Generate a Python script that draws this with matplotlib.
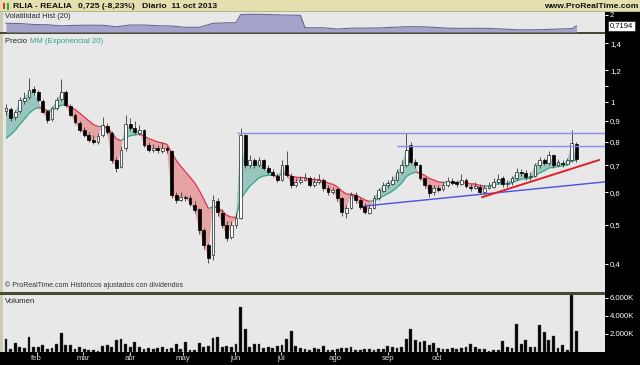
import matplotlib
matplotlib.use("Agg")
import matplotlib.pyplot as plt
import numpy as np
import pandas as pd
from matplotlib.collections import LineCollection
from matplotlib.patches import Rectangle
from matplotlib.ticker import NullLocator
from matplotlib.transforms import blended_transform_factory

plt.rcParams["font.family"] = ["Liberation Sans", "DejaVu Sans"]

# --- data (one candle = two sessions) ---
opens = [
    0.95, 0.965, 0.92, 0.95, 1.01, 1.03, 1.08, 1.06, 1.01, 0.95,
    0.91, 0.97, 1.02, 1.06, 0.98, 0.93, 0.89, 0.855, 0.83, 0.81,
    0.80, 0.83, 0.875, 0.84, 0.72, 0.695, 0.77, 0.885, 0.865, 0.84,
    0.855, 0.785, 0.765, 0.77, 0.76, 0.772, 0.76, 0.59, 0.575, 0.585,
    0.58, 0.56, 0.545, 0.485, 0.445, 0.42, 0.57, 0.535, 0.50, 0.465,
    0.50, 0.52, 0.83, 0.70, 0.72, 0.70, 0.72, 0.69, 0.675, 0.66,
    0.645, 0.70, 0.66, 0.625, 0.635, 0.645, 0.65, 0.625, 0.635, 0.645,
    0.615, 0.60, 0.61, 0.58, 0.535, 0.55, 0.59, 0.575, 0.555, 0.535,
    0.55, 0.58, 0.605, 0.625, 0.63, 0.645, 0.675, 0.70, 0.785, 0.715,
    0.70, 0.65, 0.625, 0.60, 0.615, 0.61, 0.625, 0.64, 0.635, 0.63,
    0.645, 0.62, 0.615, 0.62, 0.60, 0.615, 0.62, 0.635, 0.65, 0.63,
    0.635, 0.65, 0.675, 0.67, 0.655, 0.66, 0.70, 0.72, 0.71, 0.74,
    0.70, 0.71, 0.705, 0.72, 0.79,
]
closes = [
    0.969, 0.915, 0.947, 1.013, 1.025, 1.073, 1.061, 1.013, 0.947, 0.905,
    0.969, 1.013, 1.061, 0.985, 0.931, 0.895, 0.855, 0.831, 0.808, 0.799,
    0.826, 0.880, 0.845, 0.721, 0.689, 0.763, 0.885, 0.865, 0.845, 0.855,
    0.785, 0.763, 0.772, 0.763, 0.772, 0.763, 0.591, 0.575, 0.585, 0.581,
    0.562, 0.543, 0.485, 0.445, 0.414, 0.575, 0.537, 0.499, 0.463, 0.499,
    0.519, 0.831, 0.701, 0.721, 0.701, 0.721, 0.689, 0.674, 0.662, 0.644,
    0.701, 0.662, 0.626, 0.637, 0.644, 0.651, 0.626, 0.637, 0.644, 0.615,
    0.602, 0.608, 0.581, 0.537, 0.549, 0.591, 0.575, 0.553, 0.537, 0.549,
    0.581, 0.608, 0.626, 0.633, 0.644, 0.674, 0.701, 0.765, 0.713, 0.701,
    0.651, 0.626, 0.598, 0.615, 0.608, 0.626, 0.640, 0.633, 0.630, 0.644,
    0.623, 0.615, 0.623, 0.602, 0.615, 0.623, 0.637, 0.648, 0.630, 0.633,
    0.651, 0.674, 0.670, 0.655, 0.659, 0.701, 0.721, 0.709, 0.742, 0.701,
    0.713, 0.705, 0.721, 0.794, 0.725,
]
highs = [
    0.99, 0.975, 0.96, 1.03, 1.06, 1.148, 1.10, 1.07, 1.02, 0.96,
    0.98, 1.03, 1.14, 1.07, 0.99, 0.94, 0.90, 0.87, 0.845, 0.83,
    0.84, 0.92, 0.89, 0.85, 0.735, 0.78, 0.93, 0.915, 0.90, 0.88,
    0.86, 0.80, 0.79, 0.785, 0.80, 0.78, 0.765, 0.60, 0.60, 0.59,
    0.59, 0.57, 0.55, 0.49, 0.45, 0.59, 0.58, 0.545, 0.51, 0.51,
    0.535, 0.865, 0.835, 0.74, 0.73, 0.735, 0.725, 0.70, 0.685, 0.67,
    0.72, 0.76, 0.67, 0.65, 0.66, 0.67, 0.66, 0.655, 0.665, 0.65,
    0.625, 0.62, 0.615, 0.585, 0.56, 0.60, 0.60, 0.58, 0.565, 0.56,
    0.59, 0.615, 0.635, 0.645, 0.66, 0.685, 0.72, 0.84, 0.80, 0.725,
    0.705, 0.655, 0.63, 0.625, 0.625, 0.635, 0.655, 0.65, 0.645, 0.665,
    0.65, 0.63, 0.635, 0.63, 0.625, 0.635, 0.65, 0.665, 0.66, 0.645,
    0.66, 0.69, 0.685, 0.68, 0.675, 0.71, 0.735, 0.73, 0.76, 0.745,
    0.725, 0.72, 0.73, 0.855, 0.80,
]
lows = [
    0.93, 0.90, 0.905, 0.94, 0.99, 1.02, 1.04, 1.00, 0.94, 0.89,
    0.90, 0.96, 1.01, 0.975, 0.925, 0.885, 0.845, 0.82, 0.80, 0.79,
    0.79, 0.82, 0.835, 0.71, 0.675, 0.69, 0.76, 0.85, 0.835, 0.83,
    0.775, 0.755, 0.755, 0.75, 0.75, 0.75, 0.58, 0.565, 0.57, 0.57,
    0.555, 0.535, 0.475, 0.435, 0.402, 0.41, 0.525, 0.49, 0.455, 0.46,
    0.49, 0.515, 0.69, 0.69, 0.69, 0.695, 0.68, 0.665, 0.655, 0.635,
    0.64, 0.655, 0.615, 0.62, 0.63, 0.64, 0.62, 0.62, 0.63, 0.605,
    0.59, 0.595, 0.57, 0.525, 0.52, 0.545, 0.565, 0.545, 0.53, 0.53,
    0.545, 0.575, 0.60, 0.615, 0.625, 0.64, 0.665, 0.695, 0.705, 0.69,
    0.645, 0.615, 0.585, 0.59, 0.60, 0.605, 0.62, 0.625, 0.62, 0.625,
    0.615, 0.605, 0.61, 0.595, 0.595, 0.61, 0.615, 0.63, 0.62, 0.62,
    0.625, 0.645, 0.66, 0.645, 0.645, 0.655, 0.69, 0.70, 0.70, 0.69,
    0.695, 0.695, 0.70, 0.715, 0.715,
]
volume_k = [
    1450, 300, 950, 500, 400, 1700, 500, 500, 800, 300,
    450, 900, 2100, 750, 750, 350, 600, 300, 250, 200,
    150, 700, 750, 500, 1300, 1400, 900, 600, 1100, 500,
    350, 450, 350, 450, 500, 300, 400, 900, 350, 1100,
    250, 200, 950, 600, 700, 1600, 1700, 500, 700, 600,
    900, 5000, 2600, 500, 900, 900, 400, 550, 450, 700,
    800, 1450, 2300, 700, 400, 350, 250, 400, 300, 650,
    250, 200, 350, 400, 450, 550, 250, 200, 300, 300,
    250, 300, 300, 650, 500, 400, 500, 1450, 2600, 1300,
    1100, 1200, 800, 1000, 400, 350, 300, 400, 350, 400,
    500, 900, 550, 350, 300, 150, 200, 250, 1200, 600,
    400, 3150, 900, 1300, 500, 600, 3050, 2200, 1300, 1750,
    450, 800, 250, 6300, 2300,
]
ema_start = 0.78  # MM value at the first visible candle

hv_bar = [0, 3, 6, 9, 12, 15, 18, 21, 24, 27, 30, 33, 36, 39, 42, 45, 48, 50, 51, 54,
          57, 60, 63, 64, 65, 69, 72, 75, 78, 81, 84, 87, 90, 93, 96, 99, 102, 105, 108, 111,
          114, 117, 120, 123, 124]
hv_val = [1.02, 1.0, 0.88, 0.85, 0.72, 0.78, 0.80, 0.79, 0.62, 0.82,
          0.82, 0.74, 0.70, 0.55, 0.55, 1.02, 1.08, 1.09, 2.05, 2.08,
          2.05, 2.0, 1.97, 1.95, 0.5, 0.5, 0.35, 0.45, 0.45, 0.48,
          0.55, 0.62, 0.62, 0.55, 0.45, 0.42, 0.44, 0.42, 0.35, 0.26,
          0.26, 0.28, 0.35, 0.40, 0.72]

month_labels = ["feb", "mar", "abr", "may", "jun", "jul", "ago", "sep", "oct"]
month_pos = [6.7, 16.7, 27, 38.5, 49.8, 59.8, 71.5, 83, 93.7]

price_ticks = [0.4, 0.5, 0.6, 0.7, 0.8, 0.9, 1.0, 1.1, 1.2, 1.4]
price_labels = ["0,4", "0,5", "0,6", "0,7", "0,8", "0,9", "1", "", "1,2", "1,4"]

resistance = [(50.2, 0.84), (85.0, 0.781)]       # (start bar, level)
support = ([78.3, 130.2], [0.556, 0.637])
uptrend = ([103.5, 128.9], [0.584, 0.721])

assert len(opens) == len(closes) == len(highs) == len(lows) == len(volume_k)

# --- layout helpers (pixel boxes measured from the top-left) ---
W, H = 640, 365
XMIN, XMAX = -0.65, 130.2
BG = "#e8e8e8"


def box(x0, y0, x1, y1):
    return [x0 / W, 1 - y1 / H, (x1 - x0) / W, (y1 - y0) / H]


def fig_rect(x0, y0, x1, y1, color):
    fig.add_artist(Rectangle((x0 / W, 1 - y1 / H), (x1 - x0) / W, (y1 - y0) / H,
                             transform=fig.transFigure, facecolor=color,
                             edgecolor="none", zorder=-1))


fig = plt.figure(figsize=(6.4, 3.65), dpi=100, facecolor="black")
fig_rect(0, 0, 640, 12, "#e3dfae")
fig_rect(0, 11, 640, 12, "#b8b488")
fig_rect(0, 12, 3, 352, "#cfcbb0")
fig_rect(0, 32, 605, 34, "#4a4830")
fig_rect(0, 292, 605, 295, "#4a4830")

ax_v = fig.add_axes(box(3, 12, 605, 32))
ax_p = fig.add_axes(box(3, 34, 605, 292))
ax_q = fig.add_axes(box(3, 295, 605, 352))

for ax in (ax_v, ax_p, ax_q):
    ax.set_facecolor(BG)
    for s in ax.spines.values():
        s.set_visible(False)
    ax.set_xlim(XMIN, XMAX)
    ax.yaxis.tick_right()
    ax.tick_params(axis="y", colors="white", length=2, width=0.8, pad=1.5,
                   labelsize=5.6)
    ax.tick_params(axis="x", bottom=False, labelbottom=False)

# --- header ---
fig.add_artist(Rectangle((3 / W, 1 - 9 / H), 2 / W, 6 / H, transform=fig.transFigure,
                         facecolor="#e03030", edgecolor="none"))
fig.add_artist(Rectangle((7 / W, 1 - 10 / H), 2 / W, 7 / H, transform=fig.transFigure,
                         facecolor="#20b040", edgecolor="none"))
hdr = dict(fontsize=6.1, fontweight="bold", va="center", color="#111111")
fig.text(13 / W, 1 - 6 / H, "RLIA - REALIA", **hdr)
fig.text(78 / W, 1 - 6 / H, "0,725 (-8,23%)", **hdr)
fig.text(142 / W, 1 - 6 / H, "Diario  11 oct 2013", **hdr)
fig.text(638 / W, 1 - 6 / H, "www.ProRealTime.com", ha="right", **hdr)

# --- historical volatility panel ---
ax_v.set_ylim(0, 2.35)
ax_v.fill_between(hv_bar, hv_val, 0, color="#a3a3cb", lw=0)
ax_v.plot(hv_bar, hv_val, color="#6a6a90", lw=0.8)
ax_v.set_yticks([2], ["2"])
ax_v.text(0.004, 0.93, "Volatilidad Hist (20)", transform=ax_v.transAxes,
          fontsize=5.4, va="top", color="#222222")
tr = blended_transform_factory(ax_v.transAxes, ax_v.transData)
ax_v.text(1.008, hv_val[-1], "0,7194", transform=tr, fontsize=5.4, va="center",
          ha="left", color="black",
          bbox=dict(boxstyle="square,pad=0.2", facecolor="white",
                    edgecolor="#333333", lw=0.6))

# --- price panel ---
idx = np.arange(len(closes))
o = np.array(opens)
c = np.array(closes)
h = np.array(highs)
lo = np.array(lows)

ema = pd.Series(np.r_[ema_start, c]).ewm(span=10, adjust=False).mean().to_numpy()[1:]
above = c >= ema

ax_p.set_yscale("log")
ax_p.set_ylim(0.341, 1.474)
ax_p.fill_between(idx, c, ema, where=above, interpolate=True, color="#98c6bf",
                  lw=0, zorder=1)
ax_p.fill_between(idx, c, ema, where=~above, interpolate=True, color="#e6a3a3",
                  lw=0, zorder=1)
segs = np.stack([np.c_[idx[:-1], ema[:-1]], np.c_[idx[1:], ema[1:]]], axis=1)
seg_cols = ["#2fa884" if a else "#e0304c" for a in above[1:]]
ax_p.add_collection(LineCollection(segs, colors=seg_cols, linewidths=0.9, zorder=2))

ax_p.vlines(idx, lo, h, color="#3a3a3a", lw=0.6, zorder=3)
up = c >= o
body_bot = np.minimum(o, c)
body_h = np.maximum(np.abs(c - o), 0.004)
ax_p.bar(idx[up], body_h[up], bottom=body_bot[up], width=0.62, color="white",
         edgecolor="#222222", linewidth=0.5, zorder=4)
ax_p.bar(idx[~up], body_h[~up], bottom=body_bot[~up], width=0.62, color="black",
         edgecolor="black", linewidth=0.5, zorder=4)

for start, level in resistance:
    ax_p.hlines(level, start, XMAX, color="#8c8cf0", lw=1.0, zorder=5)
ax_p.plot(*support, color="#4e4ee6", lw=1.0, zorder=5)
ax_p.plot(*uptrend, color="#e02222", lw=1.4, zorder=5)

ax_p.set_yticks(price_ticks, price_labels)
ax_p.yaxis.set_minor_locator(NullLocator())

t1 = ax_p.text(0.004, 0.985, "Precio ", transform=ax_p.transAxes, fontsize=5.6,
               va="top", color="#222222")
ax_p.annotate("MM (Exponencial 20)", xy=(1, 0), xycoords=t1, va="bottom",
              fontsize=5.6, color="#2fa884")
ax_p.text(0.004, 0.012, "\u00a9 ProRealTime.com Históricos ajustados con dividendos",
          transform=ax_p.transAxes, fontsize=5.0, va="bottom", color="#333333")

# --- volume panel ---
ax_q.set_ylim(0, 6330)
ax_q.bar(idx, volume_k, width=0.62, color="black", edgecolor="#555555",
         linewidth=0.3)
ax_q.set_yticks([2000, 4000, 6000], ["2.000K", "4.000K", "6.000K"])
ax_q.text(0.004, 0.95, "Volumen", transform=ax_q.transAxes, fontsize=5.6,
          va="top", color="#222222")
ax_q.tick_params(axis="x", bottom=True, labelbottom=True, colors="#d8d8d8",
                 length=2, width=0.8, pad=0.5, labelsize=5.6)
ax_q.set_xticks(month_pos, month_labels)

fig.savefig("out.png", dpi=100, facecolor="black")
